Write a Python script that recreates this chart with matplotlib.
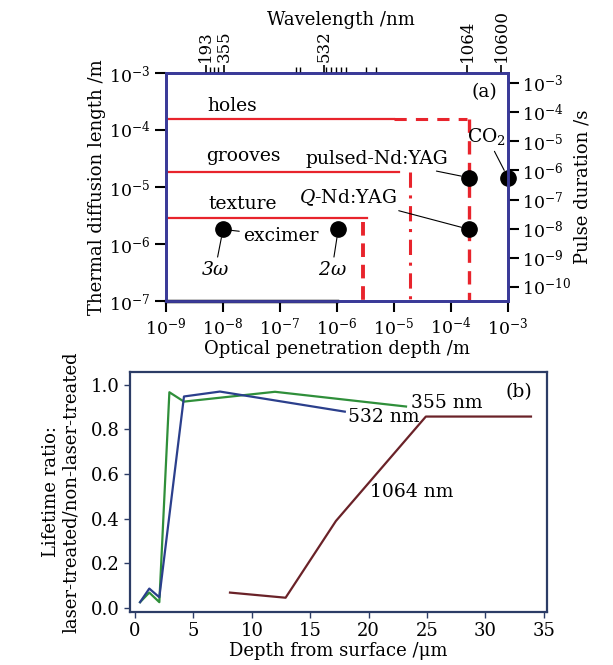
import numpy as np
import matplotlib
matplotlib.use("Agg")
import matplotlib.pyplot as plt
from matplotlib.ticker import LogLocator, NullLocator, NullFormatter

plt.rcParams['font.family'] = ['DejaVu Serif']
plt.rcParams['mathtext.fontset'] = 'dejavuserif'

# ---- panel (a) data ----
# regime lines: y level, end of solid part, x of vertical dashed line
holes_y = 1.55e-4
holes_x_solid = 1e-5
holes_x_vert = 2.1e-4
grooves_y = 1.85e-5
grooves_x_solid = 1.2e-5
grooves_x_vert = 1.9e-5
texture_y = 2.9e-6
texture_x_solid = 3.4e-6
texture_x_vert = 2.9e-6

# lasers: optical penetration depth (m), thermal diffusion length (m)
laser_x = [1e-8, 1.05e-6, 2.1e-4, 2.1e-4, 1e-3]
laser_y = [1.8e-6, 1.8e-6, 1.8e-6, 1.45e-5, 1.45e-5]

# top axis: wavelength ticks placed at penetration depth
wl_labels = ["193", "355", "532", "1064", "10600"]
wl_pos = [10**-8.30, 10**-7.98, 10**-6.23, 10**-3.72, 10**-3.12]
wl_minor = [10**-8.22, 10**-8.15, 10**-8.08, 10**-6.72, 10**-6.65,
            10**-6.19, 10**-6.10, 10**-6.02, 10**-5.93, 10**-5.84,
            10**-5.50, 10**-5.32]

# ---- panel (b) data ----
d532 = [0.43, 1.22, 2.08, 4.19, 7.27, 17.96]
r532 = [0.026, 0.087, 0.048, 0.948, 0.970, 0.880]
d355 = [0.43, 1.22, 2.08, 2.94, 4.19, 11.98, 23.2]
r355 = [0.026, 0.069, 0.026, 0.967, 0.925, 0.969, 0.903]
d1064 = [8.13, 12.89, 17.2, 24.9, 33.9]
r1064 = [0.069, 0.046, 0.390, 0.858, 0.858]

red = '#e8242c'
spine_a = '#3a3a98'
spine_b = '#2c3c66'

fig = plt.figure(figsize=(6.13, 6.65), dpi=100)

# ================= panel (a) =================
ax = fig.add_axes([0.2708, 0.5474, 0.558, 0.3429])
ax.set_xscale('log')
ax.set_yscale('log')
ax.set_xlim(1e-9, 1e-3)
ax.set_ylim(1e-7, 1e-3)

ax.plot([1e-9, holes_x_solid], [holes_y, holes_y], color=red, lw=1.6)
ax.plot([holes_x_solid, holes_x_vert * 0.9], [holes_y, holes_y], color=red, lw=2.2, ls=(0, (4, 3)))
ax.plot([holes_x_vert, holes_x_vert], [holes_y, 1e-7], color=red, lw=2.4, ls=(0, (4, 2.5)))

ax.plot([1e-9, grooves_x_solid], [grooves_y, grooves_y], color=red, lw=1.6)
ax.plot([grooves_x_vert, grooves_x_vert], [grooves_y, 1e-7], color=red, lw=2.2, ls=(0, (5, 2.5, 1, 2.5)))

ax.plot([1e-9, texture_x_solid], [texture_y, texture_y], color=red, lw=1.6)
ax.plot([texture_x_vert, texture_x_vert], [texture_y * 0.85, 1e-7], color=red, lw=2.8, ls=(0, (3.5, 2)))

ax.plot(laser_x, laser_y, 'o', color='k', ms=11, ls='none', clip_on=False, zorder=5)
ax.plot([1e-9, 1e-6], [1e-7, 1e-7], color='k', lw=2.5, clip_on=False, zorder=6)

fs = 13.5
ax.text(10**-7.84, 10**-3.58, "holes", fontsize=fs, ha='center', va='center')
ax.text(10**-7.65, 10**-4.46, "grooves", fontsize=fs, ha='center', va='center')
ax.text(10**-7.65, 10**-5.30, "texture", fontsize=fs, ha='center', va='center')
ax.text(10**-3.42, 10**-3.33, "(a)", fontsize=fs, ha='center', va='center')

conn = dict(arrowstyle='-', color='k', lw=0.8, shrinkA=1, shrinkB=6)
ax.annotate("excimer", xy=(laser_x[0], laser_y[0]), xytext=(10**-6.98, 10**-5.86),
            fontsize=fs, ha='center', va='center', arrowprops=conn)
ax.annotate(r"3$\it{\omega}$", xy=(laser_x[0], laser_y[0]), xytext=(10**-8.14, 10**-6.46),
            fontsize=fs, ha='center', va='center', style='italic', arrowprops=conn)
ax.annotate(r"2$\it{\omega}$", xy=(laser_x[1], laser_y[1]), xytext=(10**-6.09, 10**-6.46),
            fontsize=fs, ha='center', va='center', style='italic', arrowprops=conn)
ax.annotate(r"$\it{Q}$-Nd:YAG", xy=(laser_x[2], laser_y[2]), xytext=(10**-5.81, 10**-5.18),
            fontsize=fs, ha='center', va='center', arrowprops=conn)
ax.annotate("pulsed-Nd:YAG", xy=(laser_x[3], laser_y[3]), xytext=(10**-5.30, 10**-4.51),
            fontsize=fs, ha='center', va='center', arrowprops=conn)
ax.annotate(r"CO$_2$", xy=(laser_x[4], laser_y[4]), xytext=(10**-3.37, 10**-4.12),
            fontsize=fs, ha='center', va='center', arrowprops=conn)

lfs = 13
ax.xaxis.set_major_locator(LogLocator(base=10, numticks=10))
ax.xaxis.set_minor_locator(NullLocator())
ax.yaxis.set_major_locator(LogLocator(base=10, numticks=10))
ax.yaxis.set_minor_locator(NullLocator())
ax.tick_params(direction='out', length=8, width=1.5, labelsize=12.5, color='k')
ax.set_xlabel("Optical penetration depth /m", fontsize=lfs, labelpad=1)
ax.set_ylabel("Thermal diffusion length /m", fontsize=lfs, labelpad=2)
for s in ax.spines.values():
    s.set_color(spine_a)
    s.set_linewidth(1.8)

axr = ax.twinx()
axr.set_yscale('log')
axr.set_ylim(10**-10.48, 10**-2.66)
axr.yaxis.set_major_locator(LogLocator(base=10, numticks=12))
axr.yaxis.set_minor_locator(NullLocator())
axr.tick_params(direction='out', length=8, width=1.5, labelsize=12.5, color='k', pad=2)
axr.set_ylabel("Pulse duration /s", fontsize=lfs, labelpad=2)
for s in axr.spines.values():
    s.set_color(spine_a)
    s.set_linewidth(1.8)

axt = ax.twiny()
axt.set_xscale('log')
axt.set_xlim(1e-9, 1e-3)
axt.set_xticks(wl_pos)
axt.set_xticklabels(wl_labels, rotation=90, fontsize=12)
axt.set_xticks(wl_minor, minor=True)
axt.xaxis.set_minor_formatter(NullFormatter())
axt.tick_params(which='major', direction='out', length=6, width=1.2, pad=2)
axt.tick_params(which='minor', direction='out', length=4, width=1.0)
ax.text(0.512, 1.232, "Wavelength /nm", fontsize=lfs, ha='center', va='center',
        transform=ax.transAxes)
for s in axt.spines.values():
    s.set_color(spine_a)
    s.set_linewidth(1.8)

# ================= panel (b) =================
bx = fig.add_axes([0.2121, 0.0797, 0.680, 0.361])
bx.plot(d355, r355, color='#2f8f3a', lw=1.6)
bx.plot(d532, r532, color='#2b3f8c', lw=1.6)
bx.plot(d1064, r1064, color='#6a2228', lw=1.6)
bx.set_xlim(-0.43, 35.26)
bx.set_ylim(-0.018, 1.058)
bx.set_xticks(np.arange(0, 36, 5))
bx.set_yticks(np.arange(0, 1.01, 0.2))
bx.yaxis.set_major_formatter(plt.FormatStrFormatter('%.1f'))
bx.tick_params(direction='out', length=4, width=1.0, labelsize=13, color=spine_b)
for s in bx.spines.values():
    s.set_color(spine_b)
    s.set_linewidth(1.6)
bx.text(26.7, 0.920, "355 nm", fontsize=fs, ha='center', va='center')
bx.text(21.3, 0.857, "532 nm", fontsize=fs, ha='center', va='center')
bx.text(23.7, 0.521, "1064 nm", fontsize=fs, ha='center', va='center')
bx.text(32.9, 0.969, "(b)", fontsize=fs, ha='center', va='center')
bx.set_xlabel("Depth from surface /\u03bcm", fontsize=lfs, labelpad=1)
bx.set_ylabel("Lifetime ratio:\nlaser-treated/non-laser-treated", fontsize=lfs,
              labelpad=8, linespacing=1.1)

fig.savefig("out.png", dpi=100)
